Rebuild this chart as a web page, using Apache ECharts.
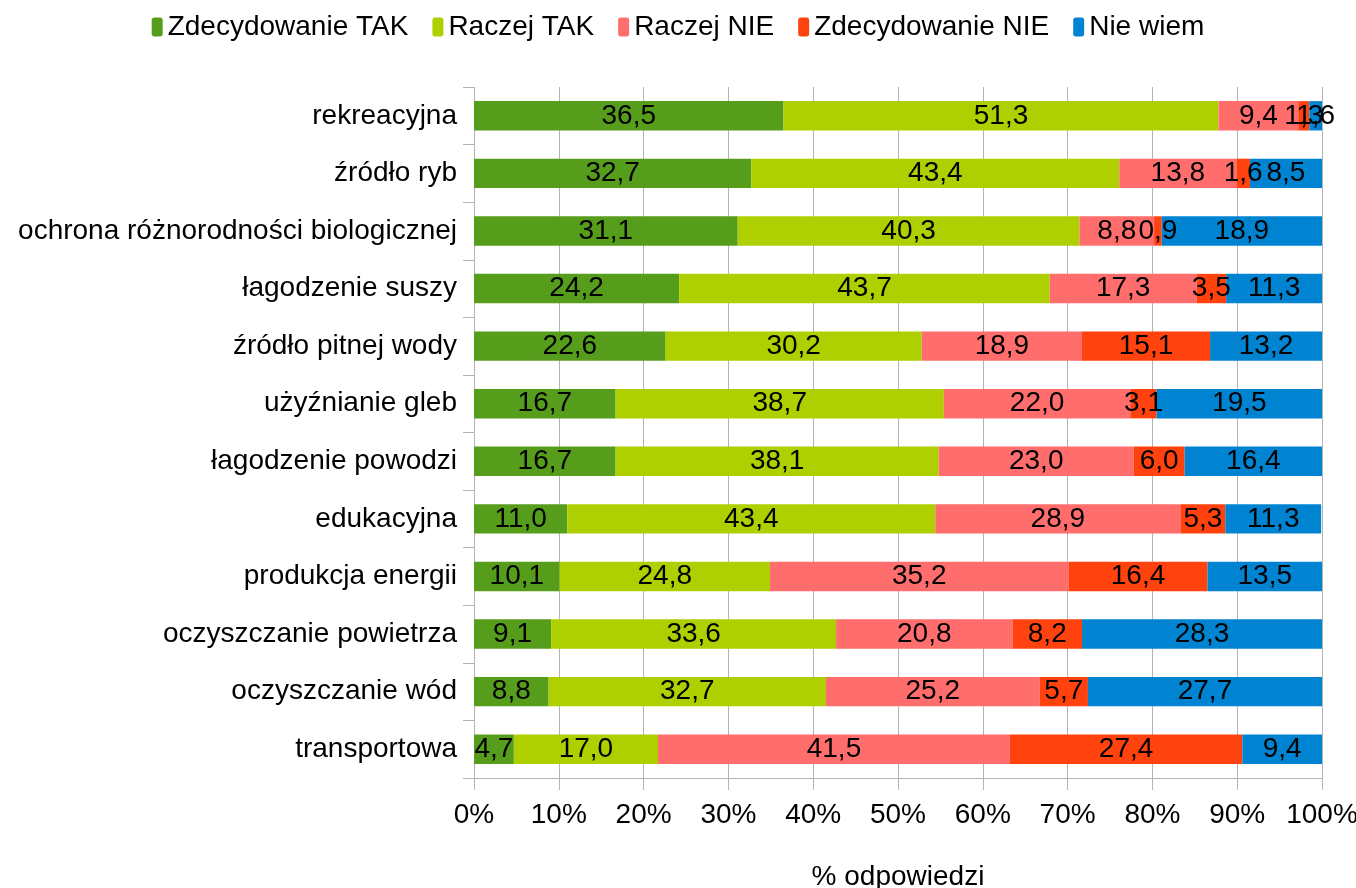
<!DOCTYPE html>
<html>
<head>
<meta charset="utf-8">
<script src="https://cdn.jsdelivr.net/npm/echarts@6/dist/echarts.min.js"></script>
<style>
  html, body { margin: 0; padding: 0; background: #fff; }
  #chart { width: 1356px; height: 888px; }
</style>
</head>
<body>
<div id="chart"></div>
<script>
const categories = [
  'rekreacyjna',
  'źródło ryb',
  'ochrona różnorodności biologicznej',
  'łagodzenie suszy',
  'źródło pitnej wody',
  'użyźnianie gleb',
  'łagodzenie powodzi',
  'edukacyjna',
  'produkcja energii',
  'oczyszczanie powietrza',
  'oczyszczanie wód',
  'transportowa'
];

const zdecydowanieTak = [36.5, 32.7, 31.1, 24.2, 22.6, 16.7, 16.7, 11.0, 10.1, 9.1, 8.8, 4.7];
const raczejTak       = [51.3, 43.4, 40.3, 43.7, 30.2, 38.7, 38.1, 43.4, 24.8, 33.6, 32.7, 17.0];
const raczejNie       = [9.4, 13.8, 8.8, 17.3, 18.9, 22.0, 23.0, 28.9, 35.2, 20.8, 25.2, 41.5];
const zdecydowanieNie = [1.3, 1.6, 0.9, 3.5, 15.1, 3.1, 6.0, 5.3, 16.4, 8.2, 5.7, 27.4];
const nieWiem         = [1.6, 8.5, 18.9, 11.3, 13.2, 19.5, 16.4, 11.3, 13.5, 28.3, 27.7, 9.4];

const FONT = 'Liberation Sans, Arial, sans-serif';
const FS = 28;

function plNum(v) {
  return v.toFixed(1).replace('.', ',');
}

function makeSeries(name, data, colour) {
  return {
    name: name,
    type: 'bar',
    stack: 'total',
    barCategoryGap: '49%',
    data: data,
    itemStyle: { color: colour },
    label: {
      show: true,
      position: 'inside',
      color: '#000',
      fontFamily: FONT,
      fontSize: FS,
      formatter: p => plNum(p.value)
    }
  };
}

const chart = echarts.init(document.getElementById('chart'));

chart.setOption({
  animation: false,
  textStyle: { fontFamily: FONT },
  legend: {
    top: 8,
    left: 'center',
    itemWidth: 11,
    itemHeight: 19,
    itemGap: 24,
    textStyle: { fontSize: FS, color: '#000', fontFamily: FONT, padding: [0, 0, 0, 0] },
    data: ['Zdecydowanie TAK', 'Raczej TAK', 'Raczej NIE', 'Zdecydowanie NIE', 'Nie wiem']
  },
  grid: { left: 474, right: 34, top: 87, bottom: 110, containLabel: false, outerBoundsMode: 'none' },
  xAxis: {
    type: 'value',
    min: 0,
    max: 100,
    interval: 10,
    name: '% odpowiedzi',
    nameLocation: 'middle',
    nameGap: 85,
    nameTextStyle: { fontSize: FS, color: '#000', fontFamily: FONT },
    axisLine: { show: true, lineStyle: { color: '#b3b3b3' } },
    axisTick: { show: true, length: 12, lineStyle: { color: '#b3b3b3' } },
    axisLabel: { formatter: '{value}%', fontSize: FS, color: '#000', margin: 23, fontFamily: FONT },
    splitLine: { show: true, lineStyle: { color: '#b3b3b3', width: 1 } }
  },
  yAxis: {
    type: 'category',
    inverse: true,
    data: categories,
    axisLine: { show: false },
    axisTick: { show: true, length: 11, lineStyle: { color: '#b3b3b3' } },
    axisLabel: { fontSize: FS, color: '#000', margin: 17, fontFamily: FONT }
  },
  series: [
    makeSeries('Zdecydowanie TAK', zdecydowanieTak, '#579d1c'),
    makeSeries('Raczej TAK', raczejTak, '#aecf00'),
    makeSeries('Raczej NIE', raczejNie, '#ff6d6d'),
    makeSeries('Zdecydowanie NIE', zdecydowanieNie, '#ff420e'),
    makeSeries('Nie wiem', nieWiem, '#0084d1')
  ]
});
</script>
</body>
</html>
